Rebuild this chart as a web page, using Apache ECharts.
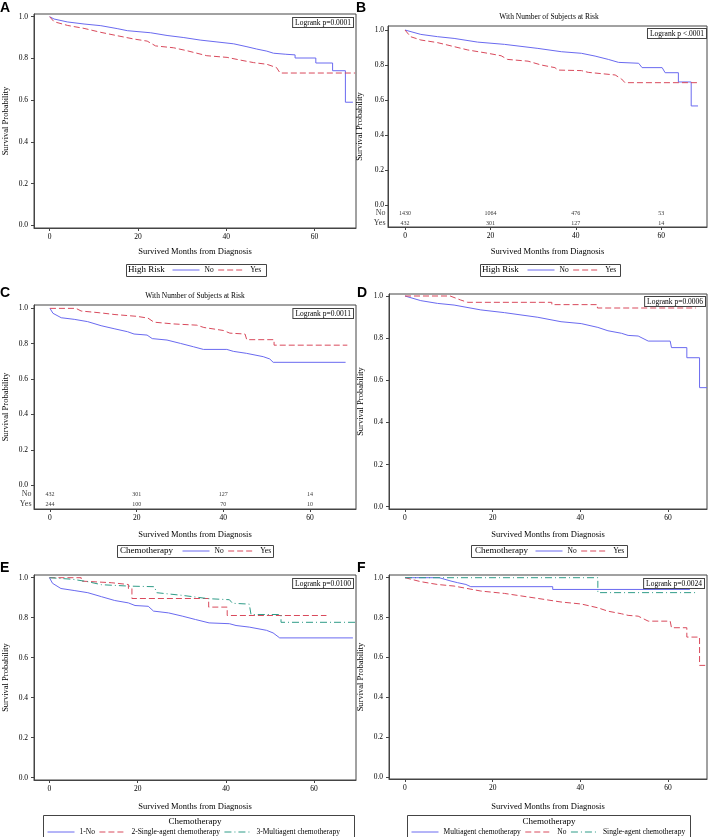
<!DOCTYPE html>
<html>
<head>
<meta charset="utf-8">
<script src="https://cdn.jsdelivr.net/npm/echarts@6/dist/echarts.min.js"></script>
<style>
  html, body { margin: 0; padding: 0; background: #fff; }
  #main { width: 709px; height: 837px; }
</style>
</head>
<body>
<div id="main"></div>
<script>
// ticks shared by all six panels
const monthTicks = [0, 20, 40, 60];
const probTicks = [0, 0.2, 0.4, 0.6, 0.8, 1.0];

// KM curves, [month, survival] vertices
const aNo = [[0,1],[1,0.989],[4,0.975],[7.8,0.965],[11.6,0.957],[15.3,0.943],[17.6,0.933],[22.9,0.923],[26.6,0.91],[30.4,0.9],[34.1,0.888],[37.9,0.879],[41.7,0.87],[44.7,0.856],[46.9,0.845],[49.2,0.835],[50.7,0.825],[53.5,0.82],[55.6,0.817],[55.6,0.802],[60.3,0.802],[60.3,0.778],[64.1,0.778],[64.1,0.741],[67,0.741],[67,0.59],[68.7,0.59]];
const aYes = [[0,1],[1,0.976],[4.1,0.958],[7.8,0.944],[11.6,0.925],[15.3,0.909],[19.1,0.893],[22.1,0.883],[24,0.86],[28.1,0.851],[31.1,0.837],[35.6,0.813],[40.2,0.805],[43.2,0.792],[46.2,0.78],[49.2,0.772],[51.4,0.756],[52.2,0.73],[69.2,0.73]];

const bNo = [[0,1],[3.7,0.975],[7.6,0.962],[11.5,0.952],[17,0.931],[23.3,0.918],[31.1,0.895],[36.6,0.876],[41.3,0.867],[44.5,0.851],[47.6,0.832],[50,0.815],[54.7,0.81],[55.5,0.785],[60.2,0.785],[60.9,0.756],[64,0.756],[64,0.703],[67,0.703],[67,0.566],[68.6,0.566]];
const bYes = [[0,1],[1.3,0.962],[3.7,0.943],[7.6,0.928],[11.5,0.905],[14.7,0.886],[19.4,0.867],[22.5,0.853],[24,0.832],[28.8,0.822],[31.9,0.8],[35.1,0.785],[35.8,0.771],[41.3,0.768],[42.9,0.758],[49.2,0.743],[50.7,0.72],[51.5,0.699],[68.8,0.699]];
const bRiskNo = [1430, 1064, 476, 53];
const bRiskYes = [432, 301, 127, 14];

const cNo = [[0,1],[0.7,0.972],[2.6,0.947],[5.6,0.938],[8.7,0.925],[11.8,0.902],[14.8,0.885],[17.9,0.868],[19.4,0.855],[22.4,0.849],[23.6,0.829],[27,0.821],[30.1,0.802],[33.1,0.783],[35.4,0.768],[40.8,0.768],[42.3,0.757],[45.3,0.746],[49.2,0.727],[50.7,0.714],[51.5,0.695],[68.2,0.695]];
const cYes = [[0,1],[6,1],[7.2,0.985],[11.5,0.975],[15,0.965],[20,0.955],[22.6,0.945],[24,0.922],[28.5,0.912],[33.9,0.905],[35.5,0.892],[40,0.875],[41.5,0.86],[45,0.855],[45.4,0.823],[51.7,0.823],[51.7,0.792],[68.6,0.792]];
const cRiskNo = [432, 301, 127, 14];
const cRiskYes = [244, 100, 70, 10];

const dNo = [[0,1],[3.6,0.978],[7.4,0.965],[11.2,0.957],[17.3,0.934],[22.7,0.921],[30.3,0.899],[35.6,0.878],[40.2,0.869],[44,0.851],[46.3,0.835],[49.4,0.823],[50.9,0.813],[53.2,0.81],[55.5,0.786],[60.5,0.786],[60.8,0.755],[64.3,0.755],[64.3,0.707],[67.2,0.707],[67.2,0.565],[68.9,0.565]];
const dYes = [[0,1],[10.3,1],[10.5,0.992],[12.7,0.981],[14.3,0.97],[33.5,0.97],[33.5,0.959],[43.9,0.959],[43.9,0.943],[66.4,0.943]];

const eNo = [[0,1],[0.7,0.972],[2.6,0.946],[5.6,0.936],[8.7,0.925],[11.8,0.905],[14.8,0.886],[17.9,0.874],[19.4,0.861],[22.4,0.857],[23.6,0.833],[27,0.824],[30.1,0.808],[33.1,0.791],[36.2,0.774],[40.8,0.77],[42.3,0.761],[45.3,0.753],[49.2,0.737],[50.7,0.724],[52.2,0.699],[68.8,0.699]];
const eSingle = [[0,1],[7.2,1],[7.2,0.983],[14,0.975],[14,0.966],[17.9,0.966],[17.9,0.946],[18.7,0.946],[18.7,0.896],[36.1,0.896],[36.1,0.853],[40.3,0.853],[40.3,0.811],[62.8,0.811]];
const eMulti = [[0,1],[5.3,0.992],[8.7,0.98],[11.8,0.965],[17.9,0.958],[23.8,0.955],[24.3,0.925],[30,0.912],[36.1,0.895],[40.8,0.89],[41.5,0.872],[45.3,0.868],[45.7,0.816],[52.5,0.816],[52.5,0.777],[69.3,0.777]];

const fMulti = [[0,1],[7.8,1],[7.8,0.992],[10.5,0.983],[12,0.975],[13.9,0.966],[15,0.955],[33.7,0.955],[33.7,0.941],[65,0.941]];
const fNo = [[0,1],[3.6,0.98],[7.4,0.966],[11.2,0.958],[17.3,0.933],[22.7,0.921],[30.3,0.896],[35.6,0.878],[40.2,0.868],[44,0.849],[46.3,0.832],[49.4,0.819],[50.9,0.811],[53.2,0.807],[55.5,0.782],[60.5,0.782],[60.8,0.749],[64.3,0.749],[64.3,0.702],[67.2,0.702],[67.2,0.56],[68.9,0.56]];
const fSingle = [[0,1],[44,1],[44,0.925],[66.2,0.925]];

const BLUE = '#6a6af0', RED = '#d94a5c', GREEN = '#2f9c88';
const DASH = [6, 3], DASHDOT = [7, 3, 1, 3];
const SERIF = 'Liberation Serif';
const FRAME = '#444';

// layout of each panel (pixels in the 709x837 page)
const panels = [
  { id: 'A', grid: [33, 14, 323, 214], x: [-3.54, 69.4], y: [-0.013, 1.013], lab: 6, nameGap: 19,
    curves: [['No', aNo, BLUE, 'solid'], ['Yes', aYes, RED, DASH]],
    logrank: ['Logrank p=0.0001', 353, 18], letter: [0, 1],
    head: ['High Risk', 128, 270], box: [126, 264, 140, 12], leg: [172, 266] },
  { id: 'B', grid: [388, 26, 319, 201], x: [-3.98, 70.7], y: [-0.126, 1.023], lab: 4, nameGap: 20,
    curves: [['No', bNo, BLUE, 'solid'], ['Yes', bYes, RED, DASH]],
    risk: [[-0.046, 'No', bRiskNo], [-0.103, 'Yes', bRiskYes]],
    sub: [549, 17],
    logrank: ['Logrank p <.0001', 706, 29], letter: [356, 1],
    head: ['High Risk', 482, 270], box: [480, 264, 140, 12], leg: [527, 266] },
  { id: 'C', grid: [33, 305, 323, 204], x: [-3.68, 70.6], y: [-0.134, 1.019], lab: 6, nameGap: 21,
    curves: [['No', cNo, BLUE, 'solid'], ['Yes', cYes, RED, DASH]],
    risk: [[-0.051, 'No', cRiskNo], [-0.106, 'Yes', cRiskYes]],
    sub: [195, 296],
    logrank: ['Logrank p=0.0011', 353, 309], letter: [0, 286],
    head: ['Chemotherapy', 120, 551], box: [117, 545, 156, 12], leg: [182, 547] },
  { id: 'D', grid: [389, 294, 318, 215], x: [-3.65, 68.9], y: [-0.011, 1.0095], lab: 6, nameGap: 21,
    curves: [['No', dNo, BLUE, 'solid'], ['Yes', dYes, RED, DASH]],
    logrank: ['Logrank p=0.0006', 705, 297], letter: [357, 286],
    head: ['Chemotherapy', 475, 551], box: [471, 545, 156, 12], leg: [535, 547] },
  { id: 'E', grid: [33, 575, 323, 205], x: [-3.5, 69.5], y: [-0.0115, 1.0135], lab: 6, nameGap: 22,
    curves: [['1-No', eNo, BLUE, 'solid'], ['2-Single-agent chemotherapy', eSingle, RED, DASH], ['3-Multiagent chemotherapy', eMulti, GREEN, DASHDOT]],
    logrank: ['Logrank p=0.0100', 353, 579], letter: [0, 561],
    head: ['Chemotherapy', 195, 822, 'center'], box: [43, 815, 311, 24], leg: [47, 828] },
  { id: 'F', grid: [389, 575, 318, 204], x: [-3.65, 68.9], y: [-0.01, 1.0135], lab: 6, nameGap: 23,
    curves: [['Multiagent chemotherapy', fMulti, BLUE, 'solid'], ['No', fNo, RED, DASH], ['Single-agent chemotherapy', fSingle, GREEN, DASHDOT]],
    logrank: ['Logrank p=0.0024', 704, 579], letter: [357, 561],
    head: ['Chemotherapy', 549, 822, 'center'], box: [407, 815, 283, 24], leg: [411, 828] }
];

const grid = [], xAxis = [], yAxis = [], series = [], legend = [], graphic = [];

panels.forEach((p, i) => {
  grid.push({ left: p.grid[0], top: p.grid[1], width: p.grid[2], height: p.grid[3],
    show: true, borderColor: FRAME, borderWidth: 1, backgroundColor: 'transparent' });

  xAxis.push({ gridIndex: i, type: 'value', min: p.x[0], max: p.x[1],
    name: 'Survived Months from Diagnosis', nameLocation: 'middle', nameGap: p.nameGap,
    nameTextStyle: { fontFamily: SERIF, fontSize: 8.5, color: '#000' },
    axisLine: { show: true, onZero: false, lineStyle: { color: FRAME, width: 1 } },
    axisTick: { show: true, length: 3, customValues: monthTicks, lineStyle: { color: FRAME } },
    axisLabel: { customValues: monthTicks, margin: 5, fontFamily: SERIF, fontSize: 7.5, color: '#000' },
    splitLine: { show: false } });

  yAxis.push({ gridIndex: i, type: 'value', min: p.y[0], max: p.y[1],
    name: 'Survival Probability', nameLocation: 'middle', nameGap: 24,
    nameTextStyle: { fontFamily: SERIF, fontSize: 8.5, color: '#000' },
    axisLine: { show: true, onZero: false, lineStyle: { color: FRAME, width: 1 } },
    axisTick: { show: true, length: 3, customValues: probTicks, lineStyle: { color: FRAME } },
    axisLabel: { customValues: probTicks, margin: p.lab, fontFamily: SERIF, fontSize: 7.5, color: '#000',
      formatter: v => v.toFixed(1) },
    splitLine: { show: false } });

  const names = [];
  p.curves.forEach(([name, data, color, dash]) => {
    const sname = p.id + ':' + name;
    names.push(sname);
    series.push({ type: 'line', name: sname, xAxisIndex: i, yAxisIndex: i, data: data,
      symbol: 'circle', showSymbol: false, silent: true, animation: false,
      lineStyle: { color: color, width: 1, type: dash }, itemStyle: { color: color } });
  });

  // numbers at risk rows inside the frame
  if (p.risk) {
    p.risk.forEach(([rowY, rowName, counts]) => {
      series.push({ type: 'scatter', xAxisIndex: i, yAxisIndex: i, silent: true, animation: false,
        symbolSize: 1, itemStyle: { color: 'transparent' },
        data: monthTicks.map((m, k) => [m, rowY, counts[k]]),
        label: { show: true, position: 'inside', formatter: q => q.value[2],
          fontFamily: SERIF, fontSize: 6, color: '#000' } });
      series.push({ type: 'scatter', xAxisIndex: i, yAxisIndex: i, silent: true, animation: false,
        symbolSize: 1, itemStyle: { color: 'transparent' },
        data: [[p.x[0], rowY]],
        label: { show: true, position: 'left', distance: 2, formatter: rowName,
          fontFamily: SERIF, fontSize: 8, color: '#000' } });
    });
  }

  // legend shows only the line sample: the marker is made transparent
  legend.push({ left: p.leg[0], top: p.leg[1], padding: 0, itemWidth: 27, itemHeight: 8, itemGap: 4,
    selectedMode: false, data: names, formatter: n => n.slice(2),
    itemStyle: { color: 'transparent', borderColor: 'transparent', borderWidth: 0 },
    lineStyle: { width: 1 },
    textStyle: { fontFamily: SERIF, fontSize: 7.5, color: '#000' } });

  // legend frame and heading
  graphic.push({ type: 'rect', silent: true,
    shape: { x: p.box[0] + 0.5, y: p.box[1] + 0.5, width: p.box[2], height: p.box[3] },
    style: { fill: 'none', stroke: FRAME, lineWidth: 1 } });
  graphic.push({ type: 'text', silent: true, x: p.head[1], y: p.head[2],
    style: { text: p.head[0], fontFamily: SERIF, fontSize: 9, fill: '#000',
      align: p.head[3] || 'left', verticalAlign: 'middle' } });

  // logrank box
  graphic.push({ type: 'text', silent: true, x: p.logrank[1], y: p.logrank[2],
    style: { text: p.logrank[0], fontFamily: SERIF, fontSize: 7.5, fill: '#000',
      align: 'right', verticalAlign: 'top', padding: [1, 2, 0, 2],
      borderColor: FRAME, borderWidth: 1, backgroundColor: '#fff' } });

  // panel letter
  graphic.push({ type: 'text', silent: true, x: p.letter[0], y: p.letter[1],
    style: { text: p.id, fontFamily: 'Liberation Sans', fontWeight: 'bold', fontSize: 14, fill: '#000' } });

  if (p.sub) {
    graphic.push({ type: 'text', silent: true, x: p.sub[0], y: p.sub[1],
      style: { text: 'With Number of Subjects at Risk', fontFamily: SERIF, fontSize: 7.5, fill: '#000',
        align: 'center', verticalAlign: 'middle' } });
  }
});

const chart = echarts.init(document.getElementById('main'), null, { renderer: 'canvas' });
chart.setOption({
  backgroundColor: '#fff',
  animation: false,
  grid, xAxis, yAxis, series, legend, graphic
});
</script>
</body>
</html>
